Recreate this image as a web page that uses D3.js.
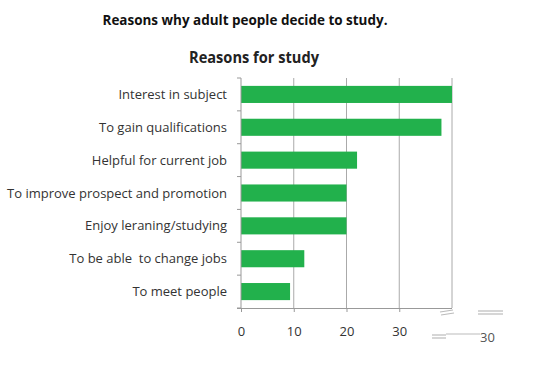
<!DOCTYPE html>
<html><head><meta charset="utf-8">
<script src="https://cdn.jsdelivr.net/npm/d3@7"></script>
<style>body{margin:0;background:#fff}svg{display:block}</style>
</head><body>
<svg id="c" width="536" height="371"></svg>
<script>
const categories = ["Interest in subject","To gain qualifications","Helpful for current job","To improve prospect and promotion","Enjoy leraning/studying","To be able  to change jobs","To meet people"];
const values = [40, 38, 22, 20, 20, 12, 9.3];
const tickValues = [0, 10, 20, 30];
const gridValues = [10, 20, 30, 40];

const svg = d3.select("#c");
const font = "'Open Sans', 'Liberation Sans', sans-serif";
const x = d3.scaleLinear().domain([0, 40]).range([241, 452]);
const y = d3.scaleBand().domain(categories).range([78, 308]).paddingInner(0.48).paddingOuter(0.24);

svg.append("text").attr("x", 245).attr("y", 25).attr("text-anchor", "middle")
  .attr("font-family", font).attr("font-weight", "bold").attr("font-size", 13.5)
  .attr("fill", "#111").attr("textLength", 285).attr("lengthAdjust", "spacingAndGlyphs")
  .text("Reasons why adult people decide to study.");
svg.append("text").attr("x", 254).attr("y", 63).attr("text-anchor", "middle")
  .attr("font-family", font).attr("font-weight", "bold").attr("font-size", 16.5)
  .attr("fill", "#222").attr("textLength", 130).attr("lengthAdjust", "spacingAndGlyphs")
  .text("Reasons for study");

// gridlines
svg.append("g").selectAll("line").data(gridValues).join("line")
  .attr("x1", d => x(d)).attr("x2", d => x(d)).attr("y1", 78).attr("y2", 308)
  .attr("stroke", "#aaa").attr("stroke-width", 1);

// bars
svg.append("g").selectAll("rect").data(values).join("rect")
  .attr("x", x(0)).attr("y", (d, i) => y(categories[i]))
  .attr("width", d => x(d) - x(0)).attr("height", y.bandwidth())
  .attr("fill", "#22b14c");

// y axis line and ticks at category boundaries
svg.append("line").attr("x1", x(0)).attr("x2", x(0)).attr("y1", 78).attr("y2", 308).attr("stroke", "#999");
svg.append("g").selectAll("line").data(d3.range(categories.length + 1)).join("line")
  .attr("x1", x(0) - 4).attr("x2", x(0)).attr("y1", i => 78 + i * (230 / categories.length)).attr("y2", i => 78 + i * (230 / categories.length))
  .attr("stroke", "#999");

// category labels
svg.append("g").selectAll("text").data(categories).join("text")
  .attr("x", 227).attr("y", d => y(d) + y.bandwidth() / 2).attr("dy", "0.35em")
  .attr("text-anchor", "end").attr("font-family", font).attr("font-size", 13).attr("fill", "#333")
  .style("white-space", "pre")
  .text(d => d);

// x axis
const xAxis = d3.axisBottom(x).tickValues(tickValues).tickSize(4).tickPadding(15).tickFormat(d3.format("d"));
const gx = svg.append("g").attr("transform", "translate(0,308)").call(xAxis);
gx.select(".domain").attr("stroke", "#999").attr("d", "M237,0.5H452");
gx.selectAll(".tick line").attr("stroke", "#999");
gx.selectAll(".tick text").attr("font-family", font).attr("font-size", 13).attr("fill", "#333");

// scan artifacts near the end of the axis
const art = svg.append("g").attr("stroke", "#bbb").attr("stroke-width", 1.2);
[[440,312,453,310],[441,315,454,313],[478,311,503,311],[478,314,503,314],[432,335,446,335],[432,338,446,338],[446,334,480,334]]
  .forEach(l => art.append("line").attr("x1", l[0]).attr("y1", l[1]).attr("x2", l[2]).attr("y2", l[3]));
svg.append("text").attr("x", 480).attr("y", 342).attr("font-family", font).attr("font-size", 13).attr("fill", "#555").text("30");
</script>
</body></html>
